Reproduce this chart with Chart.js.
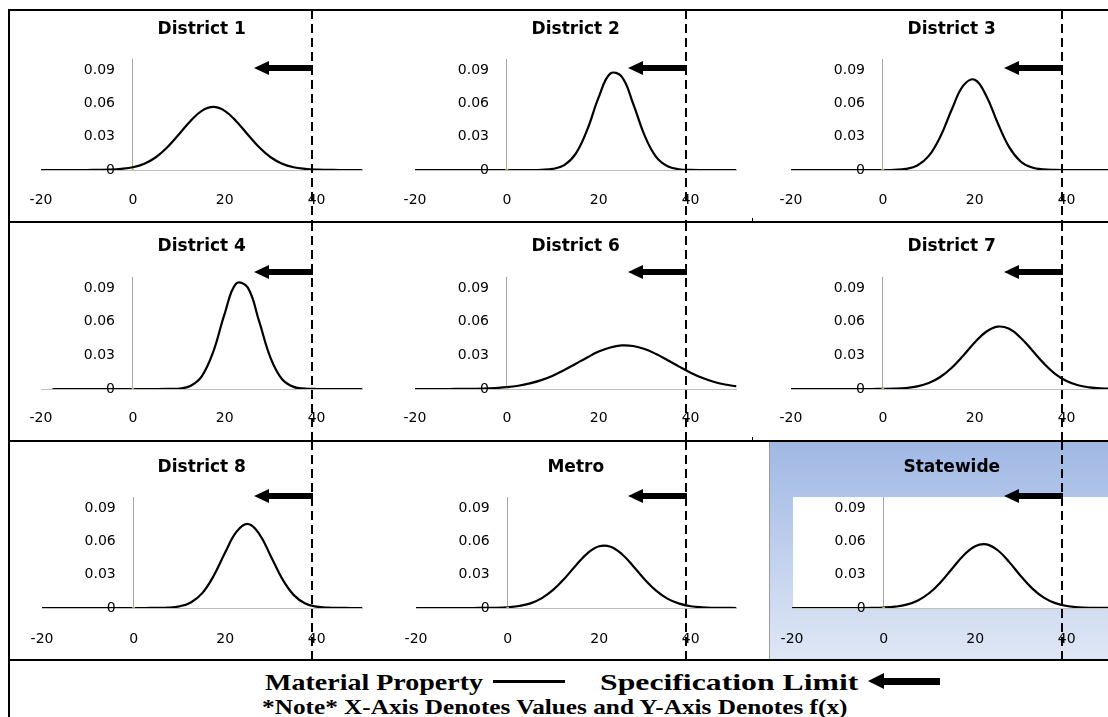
<!DOCTYPE html>
<html>
<head>
<meta charset="utf-8">
<script src="https://cdn.jsdelivr.net/npm/chart.js@4.4.1/dist/chart.umd.min.js"></script>
<style>
  html, body { margin: 0; padding: 0; background: #fff; }
  body { width: 1108px; height: 717px; overflow: hidden; position: relative; }
  .hline { position: absolute; left: 8px; width: 1110px; height: 2px; background: #000; }
  .vline { position: absolute; background: #000; }
  canvas { position: absolute; }
  #stateBg {
    position: absolute; left: 769px; top: 442px; width: 350px; height: 217px;
    background: linear-gradient(#a0b8e4, #dfe7f5);
    border-left: 1px solid #9a9a9a;
  }
  .legendText { position: absolute; font-family: "Liberation Serif", "Times New Roman", serif; font-weight: bold; color: #000; white-space: nowrap; transform-origin: left top; }
</style>
</head>
<body>
<div class="hline" style="top:9px"></div>
<div class="hline" style="top:221px"></div>
<div class="hline" style="top:440px"></div>
<div class="hline" style="top:659px"></div>
<div class="vline" style="left:8px; top:9px; width:2px; height:720px"></div>
<div class="vline" style="left:752px; top:218px; width:1px; height:5px"></div>
<div class="vline" style="left:752px; top:437px; width:1px; height:5px"></div>
<div id="stateBg"></div>

<div id="charts"></div>

<div class="legendText" data-w="218" style="left:265px; top:671px; font-size:23px; line-height:23px">Material Property</div>
<div class="vline" style="left:493px; top:680px; width:72px; height:3px"></div>
<div class="legendText" data-w="258" style="left:600px; top:671px; font-size:23px; line-height:23px">Specification Limit</div>
<div class="vline" style="left:884px; top:678px; width:56px; height:7px"></div>
<div style="position:absolute; left:868px; top:673px; width:0; height:0; border-top:8px solid transparent; border-bottom:8px solid transparent; border-right:16px solid #000"></div>
<div class="legendText" data-w="586" style="left:262px; top:697px; font-size:21px; line-height:21px">*Note* X-Axis Denotes Values and Y-Axis Denotes f(x)</div>

<script>
// x positions of the sampled curve points
const xValues = [-20, -17.5, -15, -12.5, -10, -7.5, -5, -2.5, 0, 2.5, 5, 7.5, 10, 12.5, 15,
  17.5, 20, 22.5, 25, 27.5, 30, 32.5, 35, 37.5, 40, 42.5, 45, 47.5, 50];

const categories = ["District 1", "District 2", "District 3", "District 4", "District 6",
  "District 7", "District 8", "Metro", "Statewide"];

// f(x)
const district1 = [0, 0, 0, 0, 0, 0.0001, 0.0003, 0.001, 0.0025, 0.0057, 0.0115, 0.0205, 0.032, 0.044, 0.0533,
  0.0568, 0.0533, 0.044, 0.032, 0.0205, 0.0115, 0.0057, 0.0025, 0.001, 0.0003, 0.0001, 0, 0, 0];
const district2 = [0, 0, 0, 0, 0, 0, 0, 0, 0, 0, 0, 0.0002, 0.001, 0.0044, 0.0147,
  0.0363, 0.0656, 0.0868, 0.0841, 0.0597, 0.031, 0.0118, 0.0033, 0.0007, 0.0001, 0, 0, 0, 0];
const district3 = [0, 0, 0, 0, 0, 0, 0, 0, 0, 0.0002, 0.001, 0.0041, 0.0127, 0.03, 0.0545,
  0.076, 0.0814, 0.0669, 0.0423, 0.0206, 0.0077, 0.0022, 0.0005, 0.0001, 0, 0, 0, 0, 0];
const district4 = [null, 0, 0, 0, 0, 0, 0, 0, 0, 0, 0, 0.0001, 0.0004, 0.0027, 0.0113,
  0.0332, 0.0673, 0.0942, 0.0907, 0.0603, 0.0276, 0.0087, 0.0019, 0.0003, 0, 0, 0, 0, 0];
const district6 = [0, 0, 0, 0, 0.0001, 0.0002, 0.0004, 0.0009, 0.0016, 0.0029, 0.005, 0.0079, 0.0119, 0.0169, 0.0225,
  0.0282, 0.0334, 0.0371, 0.0389, 0.0384, 0.0357, 0.0312, 0.0257, 0.02, 0.0146, 0.01, 0.0065, 0.004, 0.0023];
const district7 = [0, 0, 0, 0, 0, 0, 0, 0, 0.0001, 0.0003, 0.0009, 0.0023, 0.0053, 0.0107, 0.019,
  0.0298, 0.0415, 0.0511, 0.0557, 0.0537, 0.0458, 0.0346, 0.0231, 0.0136, 0.0071, 0.0033, 0.0014, 0.0005, 0.0002];
const district8 = [0, 0, 0, 0, 0, 0, 0, 0, 0, 0, 0.0001, 0.0003, 0.0015, 0.005, 0.0134,
  0.029, 0.05, 0.0688, 0.0757, 0.0664, 0.0465, 0.026, 0.0116, 0.0041, 0.0012, 0.0003, 0.0001, 0, 0];
const metro = [0, 0, 0, 0, 0, 0, 0.0001, 0.0002, 0.0007, 0.0018, 0.0042, 0.0089, 0.0165, 0.0269, 0.0388,
  0.0495, 0.0556, 0.0552, 0.0484, 0.0374, 0.0255, 0.0154, 0.0082, 0.0039, 0.0016, 0.0006, 0.0002, 0.0001, 0];
const statewide = [0, 0, 0, 0, 0, 0, 0, 0.0001, 0.0004, 0.0012, 0.003, 0.0068, 0.0135, 0.0234, 0.0356,
  0.0475, 0.0557, 0.0573, 0.0518, 0.0411, 0.0286, 0.0175, 0.0094, 0.0044, 0.0018, 0.0007, 0.0002, 0.0001, 0];

const seriesList = [district1, district2, district3, district4, district6, district7, district8, metro, statewide];

// the small marker Excel leaves at the origin
const markerX = [0];
const markerY = [0];

const xTickValues = [-20, 0, 20, 40];
const yTickValues = [0, 0.03, 0.06, 0.09];
const specLimit = 39;

// page layout of the 3x3 grid
const colLeft = [8, 382, 758];
const canvasW = 375;
const rows = [
  { top: 10, height: 212, titleY: 30, areaTop: 59, areaBottom: 170, labelY: 200, arrowDy: 9 },
  { top: 222, height: 219, titleY: 247, areaTop: 277, areaBottom: 389, labelY: 418, arrowDy: -5 },
  { top: 441, height: 219, titleY: 468, areaTop: 497, areaBottom: 608, labelY: 639, arrowDy: -1 },
];

const FONT = "'DejaVu Sans', sans-serif";
const TICK_SIZE = 14;
const TITLE_SIZE = 17;

function makeChart(idx) {
  const row = rows[Math.floor(idx / 3)];
  const col = idx % 3;
  const cv = document.createElement("canvas");
  cv.width = canvasW;
  cv.height = row.height;
  cv.style.left = colLeft[col] + "px";
  cv.style.top = row.top + "px";
  document.getElementById("charts").appendChild(cv);

  const titleLH = TITLE_SIZE * 1.2;
  const tickLH = TICK_SIZE * 1.2;
  const titlePadTop = row.titleY - row.top - titleLH / 2;
  const titlePadBottom = row.areaTop - row.top - titlePadTop - titleLH;
  const tickPad = row.labelY - row.areaBottom - tickLH / 2;
  const padBottom = row.top + row.height - row.areaBottom - 2 * tickPad - tickLH;
  const isState = categories[idx] === "Statewide";

  const specPlugin = {
    id: "specLine",
    beforeDraw(chart) {
      if (!isState) return;
      const a = chart.chartArea;
      chart.ctx.save();
      chart.ctx.fillStyle = "#fff";
      chart.ctx.fillRect(a.left + 1, a.top, a.right - a.left + 30, a.bottom - a.top);
      chart.ctx.restore();
    },
    afterDraw(chart) {
      const ctx = chart.ctx;
      const x = Math.round(chart.scales.x.getPixelForValue(specLimit));
      const y = chart.chartArea.top + row.arrowDy;
      ctx.save();
      ctx.strokeStyle = "#000";
      ctx.lineWidth = 2;
      ctx.setLineDash([9, 5]);
      ctx.beginPath();
      ctx.moveTo(x, 0);
      ctx.lineTo(x, chart.height);
      ctx.stroke();
      ctx.setLineDash([]);
      ctx.fillStyle = "#000";
      ctx.fillRect(x - 44, y - 3, 45, 6);
      ctx.beginPath();
      ctx.moveTo(x - 58, y);
      ctx.lineTo(x - 43, y - 7);
      ctx.lineTo(x - 43, y + 7);
      ctx.closePath();
      ctx.fill();
      ctx.restore();
    },
  };

  const ys = seriesList[idx];
  new Chart(cv, {
    type: "line",
    data: {
      datasets: [
        {
          label: "origin",
          data: markerX.map((x, i) => ({ x: x, y: markerY[i] })),
          showLine: false,
          pointRadius: 1.5,
          pointBorderWidth: 0,
          pointBackgroundColor: "#b5b84a",
          order: 0,
        },
        {
          label: categories[idx],
          data: xValues.map((x, i) => ({ x: x, y: ys[i] })),
          borderColor: "#000",
          borderWidth: 2.2,
          pointRadius: 0,
          tension: 0.4,
          fill: false,
          spanGaps: false,
          order: 1,
        },
      ],
    },
    options: {
      responsive: false,
      animation: false,
      layout: { padding: { left: 33, right: 20.5, top: 0, bottom: padBottom } },
      plugins: {
        legend: { display: false },
        tooltip: { enabled: false },
        title: {
          display: true,
          text: categories[idx],
          color: "#000",
          font: { family: FONT, size: TITLE_SIZE, weight: "bold" },
          padding: { top: titlePadTop, bottom: titlePadBottom },
        },
      },
      scales: {
        x: {
          type: "linear",
          min: -20,
          max: 50,
          position: "bottom",
          // only the x = 0 grid line is kept: it is the vertical axis line
          grid: {
            display: true,
            drawTicks: false,
            color: (c) => (c.tick && c.tick.value === 0 ? "#a6a6a6" : "rgba(0,0,0,0)"),
          },
          border: { display: true, color: "#bfbfbf", width: 1 },
          ticks: { color: "#000", font: { family: FONT, size: TICK_SIZE }, padding: tickPad, maxRotation: 0 },
          afterBuildTicks: (s) => { s.ticks = xTickValues.map((v) => ({ value: v })); },
        },
        y: {
          type: "linear",
          min: 0,
          max: 0.1,
          // labels sit about 18px left of the x = 0 line
          position: { x: -3.9 },
          grid: { display: false, drawTicks: false },
          border: { display: false },
          ticks: { color: "#000", font: { family: FONT, size: TICK_SIZE } },
          afterBuildTicks: (s) => { s.ticks = yTickValues.map((v) => ({ value: v })); },
        },
      },
    },
    plugins: [specPlugin],
  });
}

categories.forEach((c, i) => makeChart(i));

// stretch legend lines to the widths they take in the figure
document.querySelectorAll(".legendText").forEach((el) => {
  const target = Number(el.dataset.w);
  el.style.transform = "scaleX(" + (target / el.offsetWidth).toFixed(3) + ")";
});
</script>
</body>
</html>
